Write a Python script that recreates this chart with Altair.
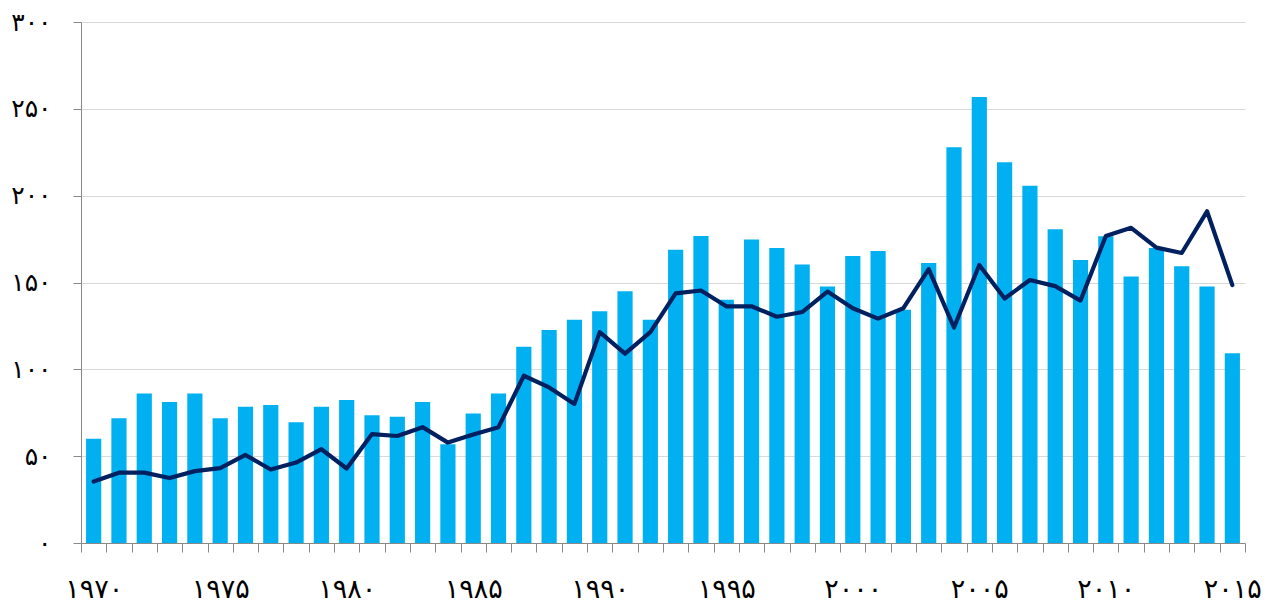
import altair as alt
import pandas as pd

years = list(range(1970, 2016))
bar_values = [60.0, 71.8, 86.1, 81.2, 86.1, 71.8, 78.5, 79.4, 69.6, 78.5,
              82.3, 73.6, 72.7, 81.2, 56.9, 74.5, 86.1, 113.0, 122.7, 128.5,
              133.4, 145.0, 128.5, 168.8, 176.8, 140.1, 174.8, 169.9, 160.3, 147.7,
              165.2, 168.1, 134.3, 161.2, 227.9, 256.8, 219.3, 205.7, 180.6, 163.0,
              176.6, 153.4, 169.9, 159.4, 147.7, 109.2]
line_values = [35.4, 40.5, 40.5, 37.4, 41.4, 43.1, 50.7, 42.3, 46.3, 54.0,
               42.9, 62.7, 61.6, 66.7, 57.8, 62.5, 66.7, 96.3, 89.6, 80.1,
               121.4, 109.0, 121.4, 143.7, 145.4, 136.3, 136.3, 130.3, 133.0, 144.8,
               135.2, 129.2, 135.2, 157.7, 124.1, 160.1, 140.8, 151.4, 147.9, 139.6,
               176.8, 181.5, 170.1, 167.0, 191.0, 148.5]
y_ticks = [0, 50, 100, 150, 200, 250, 300]
fa_digits = "۰۱۲۳۴۵۶۷۸۹"


def fa_expr(src):
    e = f"toString({src})"
    for d in range(10):
        e = f"replace({e}, regexp('{d}', 'g'), '{fa_digits[d]}')"
    return e


df = pd.DataFrame({"year": years, "bar": bar_values, "line": line_values})

axis_gray = "#898989"
font = "DejaVu Sans"

x_enc = alt.X(
    "year:O",
    scale=alt.Scale(paddingInner=0, paddingOuter=0),
    axis=alt.Axis(
        title=None,
        labelAngle=0,
        tickBand="extent",
        tickSize=9,
        tickColor=axis_gray,
        domainColor=axis_gray,
        labelPadding=24,
        labelFontSize=27,
        labelFont=font,
        labelColor="black",
        labelOverlap=False,
        labelExpr=f"datum.value % 5 == 0 ? {fa_expr('datum.value')} : ''",
        grid=False,
    ),
)

y_axis = alt.Axis(
    title=None,
    values=y_ticks,
    tickSize=8,
    tickColor=axis_gray,
    domainColor=axis_gray,
    gridColor="#d9d9d9",
    gridWidth=1.2,
    labelPadding=22,
    labelFontSize=25,
    labelFont=font,
    labelColor="black",
    labelExpr=fa_expr("datum.value"),
)

bars = alt.Chart(df).mark_bar(color="#00B0F0", width=alt.RelativeBandSize(0.6)).encode(
    x=x_enc,
    y=alt.Y("bar:Q", scale=alt.Scale(domain=[0, 300], nice=False), axis=y_axis),
)

line = alt.Chart(df).mark_line(color="#002060", strokeWidth=4.2, strokeJoin="round", strokeCap="round").encode(
    x=x_enc,
    y=alt.Y("line:Q", scale=alt.Scale(domain=[0, 300], nice=False)),
)

chart = (
    alt.layer(bars, line)
    .properties(
        width=1164,
        height=521,
        padding={"left": 73, "top": 14, "right": 20, "bottom": 63},
        autosize=alt.AutoSizeParams(type="none"),
    )
    .configure_view(stroke=None)
)

chart.save("out.html", embed_options={"renderer": "svg", "actions": False})
